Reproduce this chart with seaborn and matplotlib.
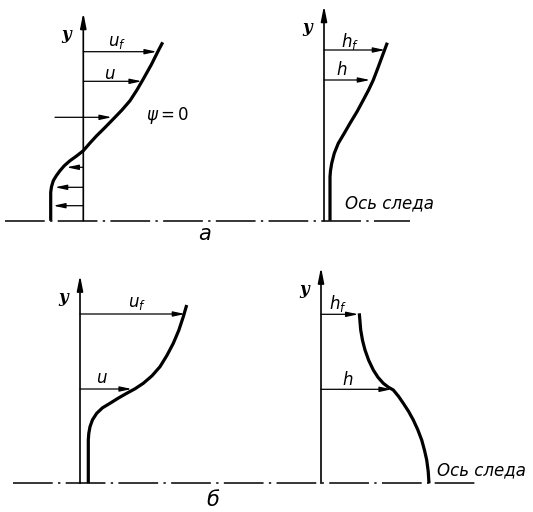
import numpy as np
import matplotlib
matplotlib.use("Agg")
import matplotlib.pyplot as plt
import seaborn as sns
import pandas as pd

# --- profile data (local units: x = distance from y axis, h = height above wake axis)
# panel a, velocity profile u(y)
a_u_x = [79.4, 75.0, 68.0, 60.0, 53.5, 46.7, 38.5, 30.0, 21.5, 13.4, 6.5, 0.0,
         -7.0, -13.3, -19.0, -23.3, -27.0, -30.0, -31.8, -32.6, -32.6]
a_u_h = [178.4, 170.0, 156.0, 141.7, 130.5, 120.0, 110.5, 101.7, 93.0, 85.0, 77.5, 70.0,
         64.5, 60.0, 55.0, 50.0, 45.0, 40.0, 34.0, 28.4, 0.0]
# panel a, enthalpy profile h(y)
a_h_x = [63.3, 58.7, 54.0, 49.3, 44.5, 39.3, 33.0, 26.0, 20.0, 14.3, 10.3, 7.7, 6.5, 6.0, 6.0]
a_h_h = [178.0, 165.7, 153.0, 140.7, 130.5, 120.7, 109.0, 97.4, 87.0, 77.4, 67.5, 57.4, 50.0, 44.0, 0.0]
# panel б, velocity profile
b_u_x = [106.7, 103.3, 98.8, 93.3, 87.0, 80.0, 72.0, 63.3, 55.0, 46.7, 38.0, 30.0,
         22.5, 16.7, 12.5, 10.0, 8.8, 8.3, 8.3]
b_u_h = [178.3, 166.6, 153.0, 140.0, 128.0, 116.6, 107.5, 100.0, 94.5, 90.0, 85.0, 80.0,
         75.5, 70.0, 63.5, 56.6, 50.0, 43.3, 0.0]
# panel б, enthalpy profile
b_h_x = [38.3, 39.7, 41.5, 44.0, 47.7, 52.3, 57.0, 62.3, 67.5, 72.3, 77.5, 82.3,
         87.5, 92.3, 96.8, 100.7, 103.5, 105.7, 107.2, 108.0]
b_h_h = [170.0, 153.3, 143.0, 133.3, 123.0, 113.3, 106.0, 100.0, 96.0, 93.3, 87.0, 80.0,
         72.0, 63.3, 53.5, 43.3, 33.0, 23.3, 12.0, 0.0]

# arrows: (height, start x, end x)
a_u_arrows = [(169.0, 0.0, 73.4), (139.4, 0.0, 58.4), (103.4, -28.3, 28.4),
              (53.4, 0.0, -16.6), (33.4, 0.0, -28.3), (15.0, 0.0, -30.0)]
a_h_arrows = [(170.7, 0.0, 61.0), (140.7, 0.0, 46.0)]
b_u_arrows = [(169.3, 0.0, 105.0), (94.3, 0.0, 51.7)]
b_h_arrows = [(169.0, 0.0, 37.3), (94.0, 0.0, 70.7)]

# labels: (text, x, h)
a_u_labels = [("$u_f$", 33.7, 178.7), ("$u$", 26.7, 146.7), (r"$\psi = 0$", 83.7, 104.7)]
a_h_labels = [("$h_f$", 26.0, 178.7), ("$h$", 18.0, 150.7)]
b_u_labels = [("$u_f$", 57.0, 180.3), ("$u$", 22.0, 105.3)]
b_h_labels = [("$h_f$", 17.0, 180.3), ("$h$", 27.0, 103.3)]

W, H = 533, 512
fig = plt.figure(figsize=(W / 100, H / 100), dpi=100)
ax = fig.add_axes([0, 0, 1, 1])
ax.set_xlim(0, W)
ax.set_ylim(0, H)
ax.axis("off")
plt.rcParams["mathtext.fontset"] = "dejavusans"


def panel(ox, oy, xs, hs, arrows, labels, top):
    # ox, oy: position of the foot of the y axis in figure pixels
    by = H - oy
    df = pd.DataFrame({"x": np.array(xs) + ox, "y": np.array(hs) + by})
    sns.lineplot(data=df, x="x", y="y", sort=False, estimator=None,
                 color="black", lw=2.3, ax=ax, solid_capstyle="butt",
                 solid_joinstyle="round")
    # y axis with arrow
    ax.annotate("", xy=(ox, by + top), xytext=(ox, by),
                arrowprops=dict(arrowstyle="-|>,head_length=0.9,head_width=0.18",
                                color="black", lw=1.2, shrinkA=0, shrinkB=0))
    ax.text(ox - 17, by + top - 22, "y", fontsize=12, style="italic",
            fontweight="bold", family="DejaVu Serif", ha="center", va="center")
    for h, x0, x1 in arrows:
        ax.annotate("", xy=(ox + x1, by + h), xytext=(ox + x0, by + h),
                    arrowprops=dict(arrowstyle="-|>,head_length=0.7,head_width=0.15",
                                    color="black", lw=0.9, shrinkA=0, shrinkB=0))
    for t, x, h in labels:
        ax.text(ox + x, by + h, t, fontsize=12, ha="center", va="center")


def wake_axis(x0, x1, oy):
    ax.plot([x0, x1], [H - oy, H - oy], color="black", lw=1.1,
            dashes=(26, 3.5, 1.5, 3.5))


wake_axis(5, 410, 220.5)
wake_axis(13, 478, 483.3)

panel(83.3, 220.7, a_u_x, a_u_h, a_u_arrows, a_u_labels, 208)
panel(324, 220.7, a_h_x, a_h_h, a_h_arrows, a_h_labels, 215)
panel(80, 483.3, b_u_x, b_u_h, b_u_arrows, b_u_labels, 208)
panel(321, 483.3, b_h_x, b_h_h, b_h_arrows, b_h_labels, 216)

ax.text(345, H - 203, "Ось следа", fontsize=12, style="italic", ha="left", va="center")
ax.text(437, H - 470, "Ось следа", fontsize=12, style="italic", ha="left", va="center")
ax.text(205, H - 234, "a", fontsize=15, style="italic", ha="center", va="center")
ax.text(213, H - 500, "б", fontsize=15, style="italic", ha="center", va="center")

fig.savefig("out.png", dpi=100)
